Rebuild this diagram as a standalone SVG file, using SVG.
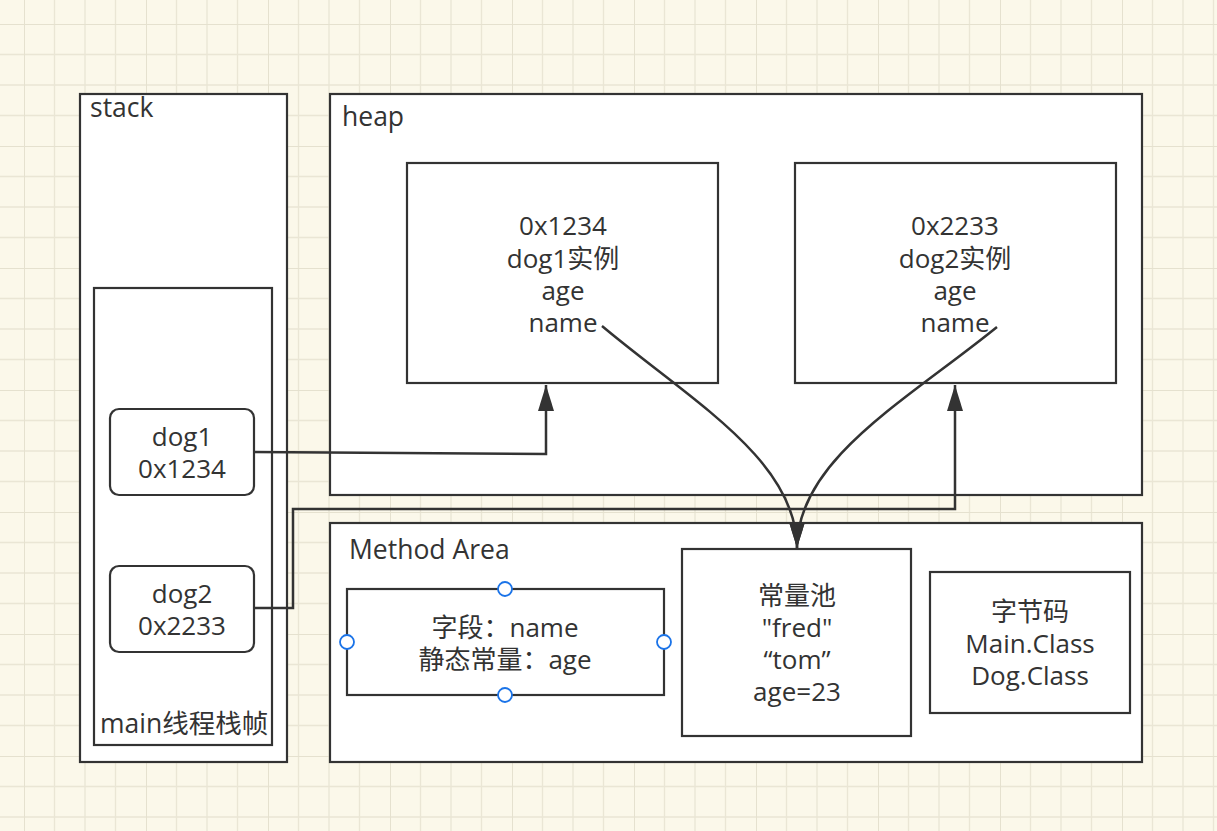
<svg xmlns="http://www.w3.org/2000/svg" width="1217" height="831" viewBox="0 0 1217 831">
  <defs>
    <pattern id="grid" patternUnits="userSpaceOnUse" x="24" y="24" width="122" height="122">
      <rect width="122" height="122" fill="#fbf8ea"/>
      <path d="M30.5,0V122M61,0V122M91.5,0V122M0,30.5H122M0,61H122M0,91.5H122" stroke="#eae6d5" stroke-width="1.3" fill="none"/>
      <path d="M0,0V122M0,0H122" stroke="#e5e1cf" stroke-width="2" fill="none"/>
    </pattern>
    <marker id="arr" markerUnits="userSpaceOnUse" markerWidth="28" markerHeight="18" refX="26" refY="8" orient="auto">
      <path d="M0,0 L26,8 L0,16 Z" fill="#333"/>
    </marker>
    <style>
      .box{fill:#fff;stroke:#333;stroke-width:2.2}
      .t{font-family:"Segoe UI","Open Sans","Noto Sans","Noto Sans CJK SC",sans-serif;font-size:26px;fill:#333;text-anchor:middle}
      .lbl{font-family:"Segoe UI","Open Sans","Noto Sans","Noto Sans CJK SC",sans-serif;font-size:26.5px;fill:#333}
      .conn{fill:none;stroke:#333;stroke-width:2.5}
      .h{fill:#fff;stroke:#1a73e8;stroke-width:1.8}
    </style>
  </defs>
  <rect width="1217" height="831" fill="url(#grid)"/>

  <g id="stack">
    <rect class="box" x="80" y="94" width="207" height="668"/>
    <text class="lbl" x="90" y="117">stack</text>
  </g>
  <g id="main-frame">
    <rect class="box" x="94" y="288" width="178" height="457"/>
    <text class="lbl" x="100" y="733">main线程栈帧</text>
  </g>
  <g id="dog1">
    <rect class="box" x="110" y="409" width="144" height="86" rx="9"/>
    <text class="t" x="182" y="446">dog1<tspan x="182" dy="32">0x1234</tspan></text>
  </g>
  <g id="dog2">
    <rect class="box" x="110" y="566" width="144" height="86" rx="9"/>
    <text class="t" x="182" y="603">dog2<tspan x="182" dy="32">0x2233</tspan></text>
  </g>
  <g id="heap">
    <rect class="box" x="330" y="94" width="812" height="401"/>
    <text class="lbl" x="342" y="126">heap</text>
  </g>
  <g id="obj1">
    <rect class="box" x="407" y="163" width="311" height="220"/>
    <text class="t" x="563" y="235">0x1234<tspan x="563" dy="33">dog1实例</tspan><tspan x="563" dy="32">age</tspan><tspan x="563" dy="32">name</tspan></text>
  </g>
  <g id="obj2">
    <rect class="box" x="795" y="163" width="321" height="220"/>
    <text class="t" x="955" y="235">0x2233<tspan x="955" dy="33">dog2实例</tspan><tspan x="955" dy="32">age</tspan><tspan x="955" dy="32">name</tspan></text>
  </g>
  <g id="method-area">
    <rect class="box" x="330" y="523" width="812" height="239"/>
    <text class="lbl" x="349" y="559">Method Area</text>
  </g>
  <g id="fields">
    <rect class="box" x="347" y="589" width="317" height="106"/>
    <text class="t" x="505" y="637">字段：name<tspan x="505" dy="32">静态常量：age</tspan></text>
    <circle class="h" cx="505" cy="589" r="7"/>
    <circle class="h" cx="347" cy="642" r="7"/>
    <circle class="h" cx="664" cy="642" r="7"/>
    <circle class="h" cx="505" cy="695" r="7"/>
  </g>
  <g id="const-pool">
    <rect class="box" x="682" y="549" width="229" height="187"/>
    <text class="t" x="797" y="605">常量池<tspan x="797" dy="32">"fred"</tspan><tspan x="797" dy="32">“tom”</tspan><tspan x="797" dy="32">age=23</tspan></text>
  </g>
  <g id="bytecode">
    <rect class="box" x="930" y="572" width="200" height="141"/>
    <text class="t" x="1030" y="621">字节码<tspan x="1030" dy="32">Main.Class</tspan><tspan x="1030" dy="32">Dog.Class</tspan></text>
  </g>

  <g id="connectors">
    <path class="conn" d="M254,452 L546,454 L546,385" marker-end="url(#arr)"/>
    <path class="conn" d="M254,608 L293,608 L293,509 L955,509 L955,385" marker-end="url(#arr)"/>
    <path class="conn" d="M602,326 C690,400 797,460 797,548" marker-end="url(#arr)"/>
    <path class="conn" d="M997,327 C907,400 797,460 797,548" marker-end="url(#arr)"/>
  </g>
</svg>
